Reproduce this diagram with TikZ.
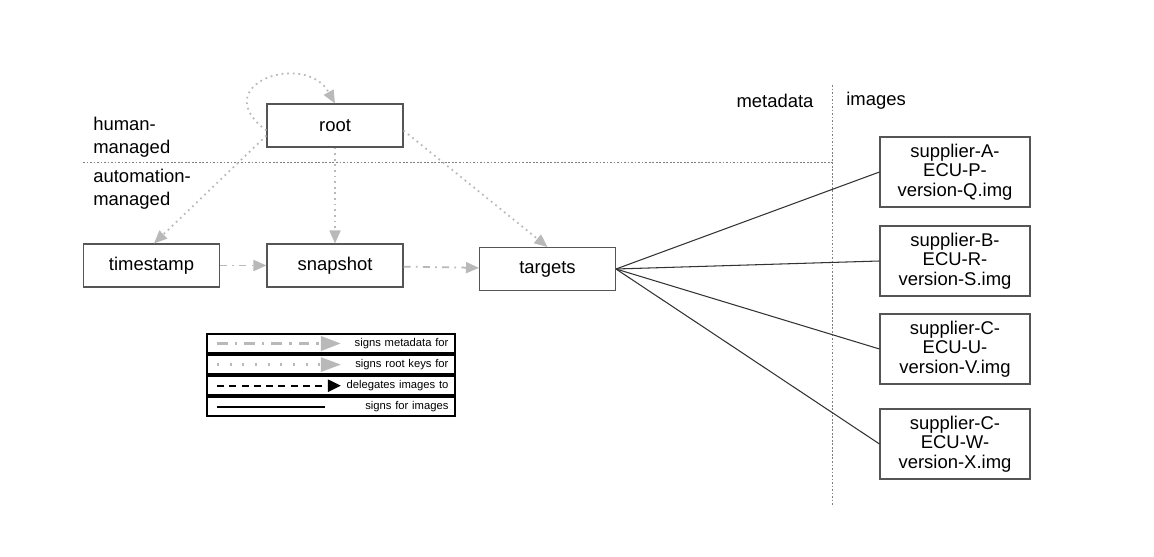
\documentclass[tikz,border=0pt]{standalone}
\usepackage{fontspec}
\setmainfont{Liberation Sans}
\usetikzlibrary{arrows.meta}
\definecolor{boxline}{RGB}{85,85,85}
\definecolor{signgray}{RGB}{185,185,185}
\begin{document}
\begin{tikzpicture}[x=0.02cm,y=-0.02cm,
  role/.style={draw=boxline,line width=0.6pt,minimum width=2.72cm,minimum height=0.86cm,inner sep=0pt,font=\fontsize{10.5}{12}\selectfont},
  imagebox/.style={draw=boxline,line width=0.6pt,minimum width=3cm,minimum height=1.4cm,inner sep=0pt,align=center,font=\fontsize{10.5}{11}\selectfont},
  plain/.style={font=\fontsize{10.5}{13}\selectfont,align=left,inner sep=0pt},
  rootsig/.style={draw=signgray,line width=1pt,dash pattern=on 1pt off 2.2pt,-{Triangle[length=2.6mm,width=2.2mm]}},
  metasig/.style={draw=signgray,line width=1pt,dash pattern=on 4pt off 3pt on 1pt off 3pt,-{Triangle[length=2.6mm,width=2.2mm]}},
  imgsig/.style={draw=black!80,line width=0.6pt},
  split/.style={draw=gray,line width=0.5pt,dash pattern=on 1pt off 1pt},
  legendrow/.style={draw=black,line width=1.2pt,minimum width=4.96cm,minimum height=0.38cm,inner sep=0pt,text width=4.7cm,align=right,font=\fontsize{6.4}{7}\selectfont}]
\useasboundingbox (0,0) rectangle (1154,557);

% dividers
\draw[split] (83,162) -- (832,162);
\draw[split] (832,85) -- (832,505);
\node[plain,anchor=north west] (human) at (93,117) {human-\\managed};
\node[plain,anchor=north west] (auto) at (93,169) {automation-\\managed};
\node[plain] (metalabel) at (775,101) {metadata};
\node[plain,anchor=west] (imglabel) at (846,101) {images};

% roles
\node[role] (root) at (335,125.5) {root};
\node[role] (timestamp) at (151.5,265.5) {timestamp};
\node[role] (snapshot) at (335,265.5) {snapshot};
\node[role] (targets) at (547.5,269) {targets};

% images
\node[imagebox] (imgA) at (955,172) {supplier-A-\\ECU-P-\\version-Q.img};
\node[imagebox] (imgB) at (955,261) {supplier-B-\\ECU-R-\\version-S.img};
\node[imagebox] (imgC) at (955,349) {supplier-C-\\ECU-U-\\version-V.img};
\node[imagebox] (imgD) at (955,444) {supplier-C-\\ECU-W-\\version-X.img};

% root keys
\draw[rootsig] ([yshift=-0.1cm]root.west) .. controls (205,85) and (305,50) .. (root.north);
\draw[rootsig] ([yshift=-0.2cm]root.west) -- ([xshift=0.05cm]timestamp.north);
\draw[rootsig] (root.south) -- (snapshot.north);
\draw[rootsig] ([yshift=-0.1cm]root.east) -- (targets.north);

% metadata
\draw[metasig] (timestamp) -- (snapshot);
\draw[metasig] (snapshot) -- (targets);

% images
\foreach \img in {imgA,imgB,imgC,imgD}
  \draw[imgsig] (targets.east) -- (\img.west);

% legend
\node[legendrow] (lgmeta) at (331,343.5) {signs metadata for};
\node[legendrow,anchor=north] (lgroot) at (lgmeta.south) {signs root keys for};
\node[legendrow,anchor=north] (lgdeleg) at (lgroot.south) {delegates images to};
\node[legendrow,anchor=north] (lgimg) at (lgdeleg.south) {signs for images};
\draw[draw=signgray,line width=2pt,dash pattern=on 6pt off 4pt on 1.5pt off 4pt,-{Triangle[length=4mm,width=2.8mm]}]
  ([xshift=0.22cm]lgmeta.west) -- ++(124,0);
\draw[draw=signgray,line width=1.5pt,dash pattern=on 1.2pt off 6pt,-{Triangle[length=4mm,width=2.8mm]}]
  ([xshift=0.22cm]lgroot.west) -- ++(124,0);
\draw[draw=black,line width=1.3pt,dash pattern=on 4pt off 3pt,-{Triangle[length=2.6mm,width=2.4mm]}]
  ([xshift=0.22cm]lgdeleg.west) -- ++(124,0);
\draw[draw=black,line width=0.9pt]
  ([xshift=0.22cm]lgimg.west) -- ++(108,0);
\end{tikzpicture}
\end{document}
